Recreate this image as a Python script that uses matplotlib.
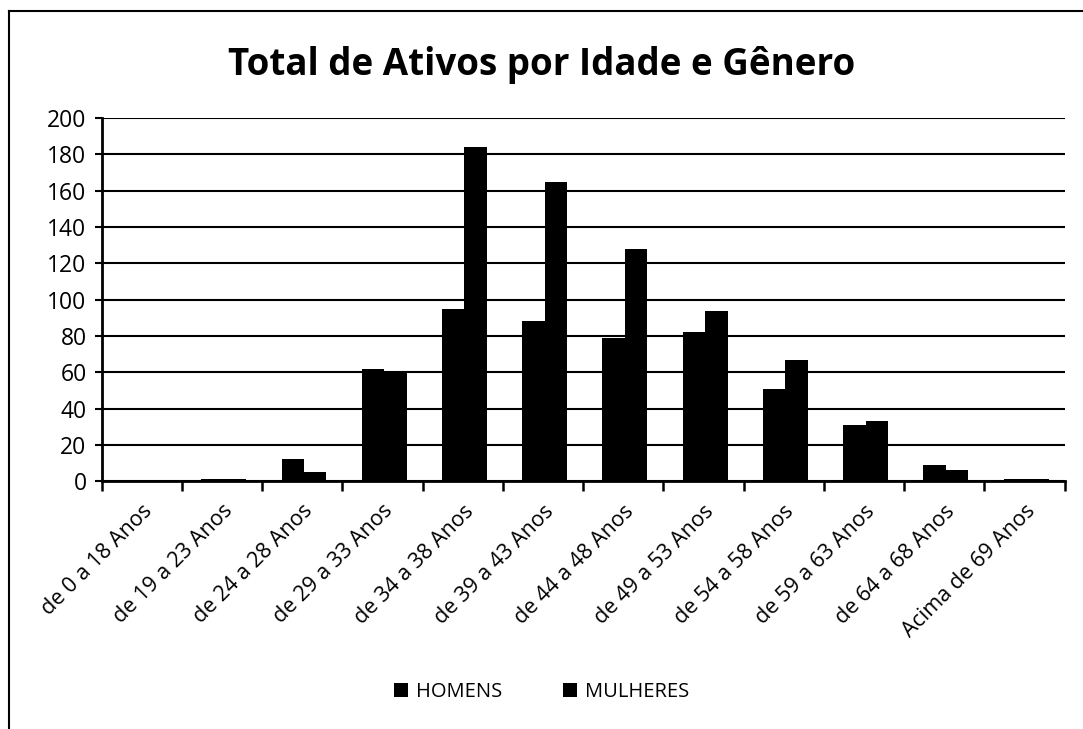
import numpy as np
import matplotlib
matplotlib.use("Agg")
from matplotlib import pyplot as plt
from matplotlib.lines import Line2D

faixas = [
    "de 0 a 18 Anos", "de 19 a 23 Anos", "de 24 a 28 Anos", "de 29 a 33 Anos",
    "de 34 a 38 Anos", "de 39 a 43 Anos", "de 44 a 48 Anos", "de 49 a 53 Anos",
    "de 54 a 58 Anos", "de 59 a 63 Anos", "de 64 a 68 Anos", "Acima de 69 Anos",
]
homens = [0, 1, 12, 62, 95, 88, 79, 82, 51, 31, 9, 1]
mulheres = [0, 1, 5, 60, 184, 165, 128, 94, 67, 33, 6, 1]
y_ticks = [0, 20, 40, 60, 80, 100, 120, 140, 160, 180, 200]

plt.rcParams["font.family"] = ["Open Sans", "DejaVu Sans"]

fig = plt.figure(figsize=(10.83, 7.29), dpi=100)
ax = fig.add_axes([0.094, 0.340, 0.889, 0.498])

x = np.arange(len(faixas))
w = 0.28
ax.bar(x - w / 2 + 0.02, homens, width=w, color="black", label="HOMENS")
ax.bar(x + w / 2 + 0.02, mulheres, width=w, color="black", label="MULHERES")

ax.set_xlim(-0.5, len(faixas) - 0.5)
ax.set_ylim(0, 200)
ax.set_yticks(y_ticks)
ax.yaxis.grid(True, color="black", linewidth=1.5)
ax.set_axisbelow(True)

ax.set_xticks(x)
ax.set_xticklabels(faixas, rotation=45, ha="right", rotation_mode="anchor", fontsize=15.5)
ax.set_xticks(np.arange(len(faixas) + 1) - 0.5, minor=True)
ax.tick_params(axis="x", which="major", length=0, pad=14)
ax.tick_params(axis="x", which="minor", length=7, width=1.8, direction="out")
ax.tick_params(axis="y", length=5, width=1.5, labelsize=16.5, pad=6)

for side in ["top", "right"]:
    ax.spines[side].set_visible(False)
ax.spines["left"].set_linewidth(2)
ax.spines["bottom"].set_linewidth(2)

fig.suptitle("Total de Ativos por Idade e Gênero", fontsize=26.5, fontweight="bold",
             y=0.911, va="center")

fig.legend(loc="center", bbox_to_anchor=(0.5, 0.051), ncol=2, frameon=False,
           fontsize=14.5, handlelength=0.7, handleheight=0.7, columnspacing=3.0,
           handletextpad=0.4)

# moldura do gráfico
fig.add_artist(Line2D([0.008, 0.008], [0.0, 0.985], color="black", linewidth=1.5))
fig.add_artist(Line2D([0.008, 1.0], [0.985, 0.985], color="black", linewidth=1.5))

plt.savefig("out.png", dpi=100)
